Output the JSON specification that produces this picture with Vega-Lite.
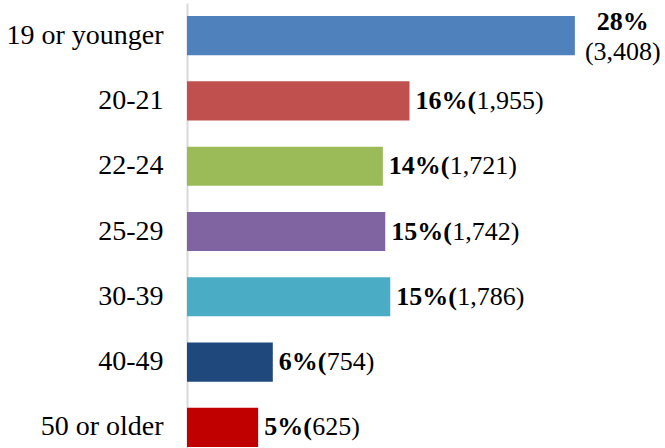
{
  "$schema": "https://vega.github.io/schema/vega-lite/v6.json",
  "width": 478,
  "height": 457,
  "autosize": {"type": "none"},
  "padding": {"left": 187, "top": 3, "right": 0, "bottom": 0},
  "background": "white",
  "config": {"view": {"stroke": null}, "font": "Liberation Serif"},
  "data": {
    "values": [
      {"age": "19 or younger", "count": 3408, "pct": 28, "boldText": "28%", "normText": "(3,408)"},
      {"age": "20-21", "count": 1955, "pct": 16, "boldText": "16%(", "normText": "1,955)"},
      {"age": "22-24", "count": 1721, "pct": 14, "boldText": "14%(", "normText": "1,721)"},
      {"age": "25-29", "count": 1742, "pct": 15, "boldText": "15%(", "normText": "1,742)"},
      {"age": "30-39", "count": 1786, "pct": 15, "boldText": "15%(", "normText": "1,786)"},
      {"age": "40-49", "count": 754, "pct": 6, "boldText": "6%(", "normText": "754)"},
      {"age": "50 or older", "count": 625, "pct": 5, "boldText": "5%(", "normText": "625)"}
    ]
  },
  "encoding": {
    "y": {
      "field": "age",
      "type": "nominal",
      "sort": null,
      "scale": {"paddingInner": 0.4, "paddingOuter": 0.2},
      "axis": {
        "title": null,
        "ticks": false,
        "domainColor": "#d9d9d9",
        "domainWidth": 2,
        "labelFont": "Liberation Serif",
        "labelFontSize": 28,
        "labelColor": "black",
        "labelPadding": 24,
        "labelLimit": 300
      }
    },
    "x": {
      "field": "count",
      "type": "quantitative",
      "scale": {"domain": [0, 4200], "nice": false},
      "axis": null
    }
  },
  "layer": [
    {
      "mark": {"type": "bar"},
      "encoding": {
        "color": {
          "field": "age",
          "type": "nominal",
          "sort": null,
          "scale": {
            "domain": ["19 or younger", "20-21", "22-24", "25-29", "30-39", "40-49", "50 or older"],
            "range": ["#4F81BD", "#C0504D", "#9BBB59", "#8064A2", "#4BACC6", "#1F497D", "#C00000"]
          },
          "legend": null
        }
      }
    },
    {
      "transform": [{"filter": "datum.age !== '19 or younger'"}],
      "mark": {"type": "text", "align": "left", "baseline": "middle", "dx": 6, "fontSize": 26, "fontWeight": "bold", "color": "black", "font": "Liberation Serif"},
      "encoding": {"text": {"field": "boldText"}}
    },
    {
      "transform": [{"filter": "datum.age !== '19 or younger' && datum.pct >= 10"}],
      "mark": {"type": "text", "align": "left", "baseline": "middle", "dx": 67, "fontSize": 26, "color": "black", "font": "Liberation Serif"},
      "encoding": {"text": {"field": "normText"}}
    },
    {
      "transform": [{"filter": "datum.pct < 10"}],
      "mark": {"type": "text", "align": "left", "baseline": "middle", "dx": 54, "fontSize": 26, "color": "black", "font": "Liberation Serif"},
      "encoding": {"text": {"field": "normText"}}
    },
    {
      "transform": [{"filter": "datum.age === '19 or younger'"}],
      "mark": {"type": "text", "align": "center", "baseline": "middle", "dx": 48, "dy": -14, "fontSize": 26, "fontWeight": "bold", "color": "black", "font": "Liberation Serif"},
      "encoding": {"text": {"field": "boldText"}}
    },
    {
      "transform": [{"filter": "datum.age === '19 or younger'"}],
      "mark": {"type": "text", "align": "center", "baseline": "middle", "dx": 48, "dy": 16, "fontSize": 26, "color": "black", "font": "Liberation Serif"},
      "encoding": {"text": {"field": "normText"}}
    }
  ]
}
